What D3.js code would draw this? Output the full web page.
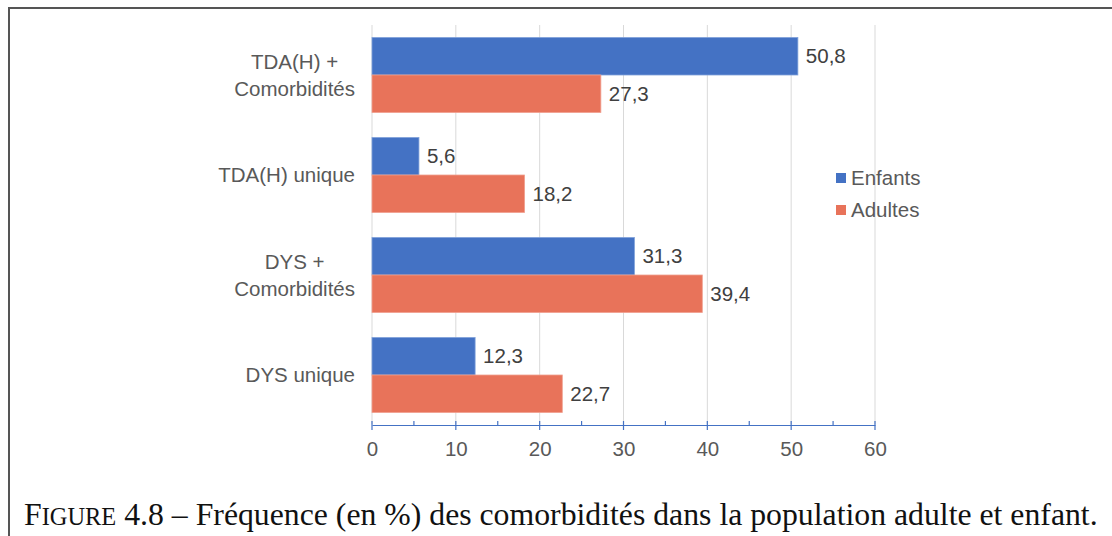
<!DOCTYPE html>
<html>
<head>
<meta charset="utf-8">
<script src="https://cdn.jsdelivr.net/npm/d3@7"></script>
<style>
  body { margin: 0; background: #fff; }
  svg { display: block; }
</style>
</head>
<body>
<div id="chart"></div>
<script>
// Data
const categories = [
  ['TDA(H) +', 'Comorbidités'],
  ['TDA(H) unique'],
  ['DYS +', 'Comorbidités'],
  ['DYS unique']
];
const seriesNames = ['Enfants', 'Adultes'];
const enfants = [50.8, 5.6, 31.3, 12.3];
const adultes = [27.3, 18.2, 39.4, 22.7];
const xTicks = [0, 10, 20, 30, 40, 50, 60];
const caption = 'Fréquence (en %) des comorbidités dans la population adulte et enfant.';

const W = 1112, H = 536;
const colors = ['#4472C4', '#E8735A'];
const strokes = ['#7FA1DA', '#F0A090'];
const sans = 'Liberation Sans, Arial, sans-serif';
const fs = 20.5;

const svg = d3.select('#chart').append('svg')
  .attr('width', W)
  .attr('height', H);

// frame (top + left only, right side is cut)
svg.append('path')
  .attr('d', `M9,${H} L9,8 L${W},8`)
  .attr('fill', 'none')
  .attr('stroke', '#555')
  .attr('stroke-width', 2);

const x = d3.scaleLinear().domain([0, 60]).range([372, 875]);
const yBand = d3.scaleBand()
  .domain(d3.range(categories.length))
  .range([25, 425])
  .paddingInner(0.25)
  .paddingOuter(0.125);
const ySub = d3.scaleBand().domain([0, 1]).range([0, yBand.bandwidth()]);

const plot = svg.append('g');

// gridlines
plot.selectAll('.grid')
  .data(xTicks.slice(1))
  .enter().append('line')
  .attr('class', 'grid')
  .attr('x1', d => x(d)).attr('x2', d => x(d))
  .attr('y1', 25).attr('y2', 424)
  .attr('stroke', '#D9D9D9')
  .attr('stroke-width', 1);

// y axis line
plot.append('line')
  .attr('x1', x(0)).attr('x2', x(0))
  .attr('y1', 25).attr('y2', 424)
  .attr('stroke', '#D9D9D9');

// bars
const series = [enfants, adultes];
series.forEach((vals, s) => {
  plot.selectAll('.bar' + s)
    .data(vals)
    .enter().append('rect')
    .attr('class', 'bar' + s)
    .attr('x', x(0))
    .attr('y', (d, i) => yBand(i) + ySub(s))
    .attr('width', d => x(d) - x(0))
    .attr('height', ySub.bandwidth())
    .attr('fill', colors[s])
    .attr('stroke', strokes[s])
    .attr('stroke-width', 0.8);

  plot.selectAll('.val' + s)
    .data(vals)
    .enter().append('text')
    .attr('x', d => x(d) + 8)
    .attr('y', (d, i) => yBand(i) + ySub(s) + ySub.bandwidth() / 2)
    .attr('dy', '0.35em')
    .attr('font-family', sans)
    .attr('font-size', fs)
    .attr('fill', '#404040')
    .text(d => d.toFixed(1).replace('.', ','));
});

// x axis
const axisY = 425;
const xAxis = svg.append('g')
  .attr('transform', `translate(0,${axisY})`)
  .call(d3.axisBottom(x).tickValues(xTicks).tickSize(0).tickPadding(16));
xAxis.select('.domain').attr('stroke', '#4472C4').attr('stroke-width', 1.2);
xAxis.selectAll('text')
  .attr('font-family', sans)
  .attr('font-size', fs)
  .attr('fill', '#595959');

// major and minor tick marks
svg.selectAll('.major')
  .data(xTicks)
  .enter().append('line')
  .attr('x1', d => x(d)).attr('x2', d => x(d))
  .attr('y1', axisY - 4).attr('y2', axisY + 5)
  .attr('stroke', '#4472C4').attr('stroke-width', 1.2);
svg.selectAll('.minor')
  .data(xTicks.slice(0, -1).map(d => d + 5))
  .enter().append('line')
  .attr('x1', d => x(d)).attr('x2', d => x(d))
  .attr('y1', axisY - 4).attr('y2', axisY)
  .attr('stroke', '#4472C4').attr('stroke-width', 1.2);

// category labels
const labelRight = 355;
categories.forEach((lines, i) => {
  const cy = yBand(i) + yBand.bandwidth() / 2;
  const g = svg.append('g');
  const texts = g.selectAll('text')
    .data(lines)
    .enter().append('text')
    .attr('font-family', sans)
    .attr('font-size', fs)
    .attr('fill', '#595959')
    .attr('text-anchor', 'middle')
    .attr('y', (d, j) => cy + (j - (lines.length - 1) / 2) * 27)
    .attr('dy', '0.35em')
    .text(d => d);
  const maxW = d3.max(texts.nodes(), n => n.getComputedTextLength());
  texts.attr('x', labelRight - maxW / 2);
});

// legend
const legend = svg.append('g').attr('transform', 'translate(836,178)');
seriesNames.forEach((name, i) => {
  legend.append('rect')
    .attr('x', 0).attr('y', i * 32 - 5)
    .attr('width', 10).attr('height', 10)
    .attr('fill', colors[i]);
  legend.append('text')
    .attr('x', 15).attr('y', i * 32)
    .attr('dy', '0.35em')
    .attr('font-family', sans)
    .attr('font-size', fs)
    .attr('fill', '#595959')
    .text(name);
});

// caption, sized to span the same width as the reference
const cap = svg.append('text')
  .attr('x', 24).attr('y', 525)
  .attr('font-family', 'Liberation Serif, DejaVu Serif, serif')
  .attr('font-size', 26)
  .attr('fill', '#111');
const t1 = cap.append('tspan').text('F');
const t2 = cap.append('tspan').attr('font-size', 20).text('IGURE');
const t3 = cap.append('tspan').text(' 4.8 – ' + caption);
const w = cap.node().getComputedTextLength();
const k = 1074 / w;
cap.attr('font-size', 26 * k);
t2.attr('font-size', 20 * k);
</script>
</body>
</html>
